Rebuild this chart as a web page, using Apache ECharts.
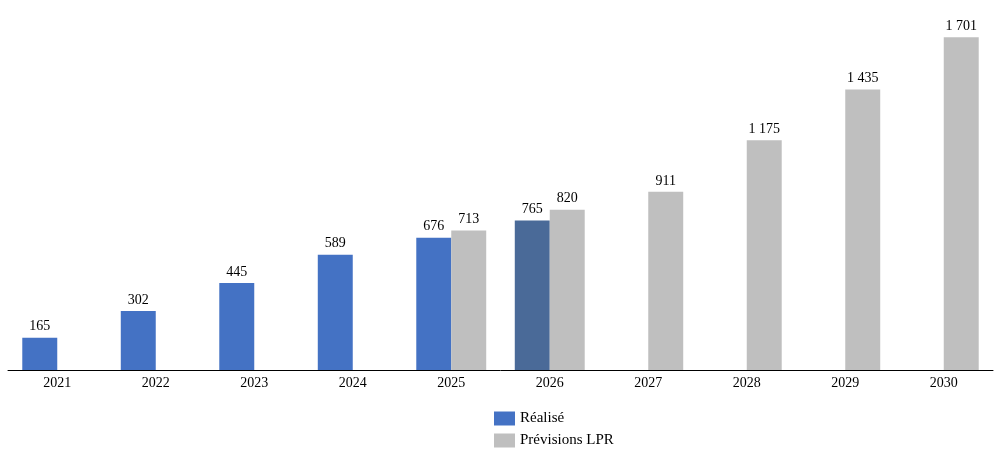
<!DOCTYPE html>
<html><head><meta charset="utf-8">
<script src="https://cdn.jsdelivr.net/npm/echarts@6/dist/echarts.min.js"></script>
<style>html,body{margin:0;padding:0;background:#fff}#c{width:1003px;height:459px}</style>
</head><body><div id="c"></div>
<script>
const categories = ['2021','2022','2023','2024','2025','2026','2027','2028','2029','2030'];
const realise = [165, 302, 445, 589, 676, 765, null, null, null, null];
const previsions = [null, null, null, null, 713, 820, 911, 1175, 1435, 1701];
const seriesNames = ['Réalisé', 'Prévisions LPR'];

const fmt = v => String(v).replace(/\B(?=(\d{3})+(?!\d))/g, ' ');
const font = '"Liberation Serif", "DejaVu Serif", serif';
const chart = echarts.init(document.getElementById('c'), null, {renderer: 'canvas'});
chart.setOption({
  animation: false,
  backgroundColor: '#fff',
  grid: {left: 8, right: 10, top: 18, bottom: 89, containLabel: false},
  legend: {
    orient: 'vertical', left: 489, top: 406, itemWidth: 21, itemHeight: 14, itemGap: 7,
    icon: 'rect', padding: 5,
    textStyle: {fontFamily: font, fontSize: 15, color: '#000'},
    data: seriesNames
  },
  xAxis: {
    type: 'category', data: categories,
    axisLine: {lineStyle: {color: '#000', width: 1}},
    axisTick: {show: false},
    axisLabel: {fontFamily: font, fontSize: 14, color: '#000', margin: 6}
  },
  yAxis: {type: 'value', min: 0, max: 1800, show: false, splitLine: {show: false}},
  series: [
    {
      name: seriesNames[0], type: 'bar', data: realise.map((v, i) => v == null ? null : (i === 5 ? {value: v, itemStyle: {color: '#4A6A98'}} : v)),
      itemStyle: {color: '#4472C4'}, barGap: '0%', barCategoryGap: '29%',
      label: {show: true, position: 'top', distance: 4, fontFamily: font, fontSize: 14, color: '#000', formatter: p => fmt(p.value)}
    },
    {
      name: seriesNames[1], type: 'bar', data: previsions,
      itemStyle: {color: '#BFBFBF'}, barGap: '0%', barCategoryGap: '29%',
      label: {show: true, position: 'top', distance: 4, fontFamily: font, fontSize: 14, color: '#000', formatter: p => fmt(p.value)}
    }
  ]
});
</script></body></html>
